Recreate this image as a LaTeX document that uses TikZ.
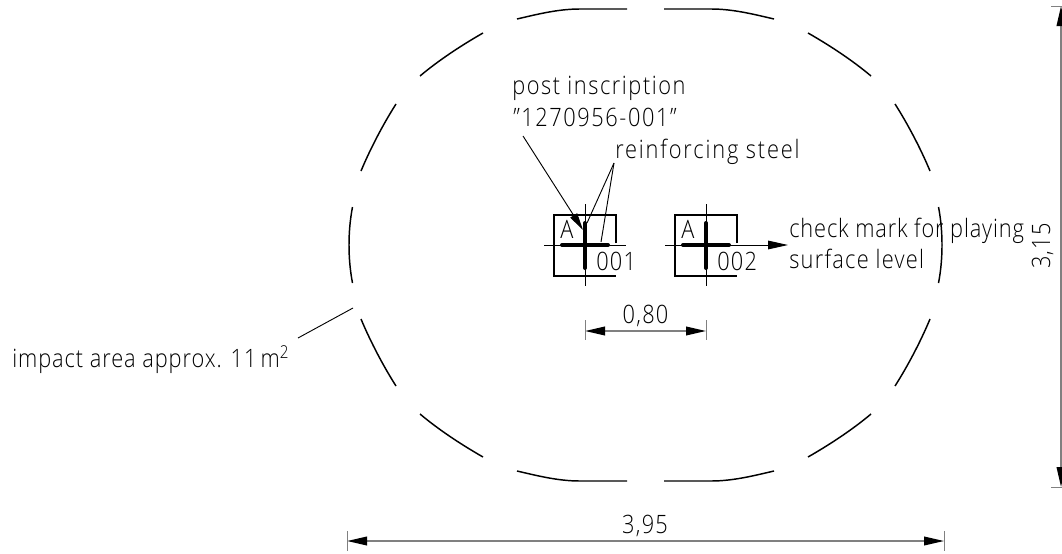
\documentclass[tikz,border=0pt]{standalone}
\usepackage{fontspec}
\setmainfont{Open Sans}[UprightFont=* Light,FakeStretch=0.86,LetterSpace=5]
\usetikzlibrary{arrows.meta}

\begin{document}
\begin{tikzpicture}[x=0.75pt, y=-0.75pt, >={Triangle[length=15pt,width=6.5pt,black]}]
			\tikzstyle{label} = [inner sep=0pt, anchor=base west, font=\fontsize{19}{21}\selectfont]
			\tikzstyle{outline} = [line width=1.1pt, line cap=butt]
			\tikzstyle{thinline} = [line width=0.7pt]
			\tikzstyle{dimline} = [line width=1.2pt, gray]
			\tikzstyle{frame} = [line width=2.2pt]
			\tikzstyle{rebar} = [line width=3pt, line cap=round]
			\useasboundingbox (0,0) rectangle (1062,553);
			% impact area, one quarter mirrored four times
			\foreach \sx in {1,-1} {
				\foreach \sy in {1,-1} {
					\begin{scope}[shift={(645.5,245)}, xscale=\sx, yscale=\sy]
					\draw[outline] (18.5,236) -- (65.5,236) .. controls (88,236) and (109,230.5) .. (128.5,226);
					\draw[outline] (162.5,212) .. controls (183.5,200) and (206.5,185) .. (225.5,169);
					\draw[outline] (249.5,141) .. controls (261,123) and (274.5,98) .. (284.5,74);
					\draw[outline] (293,38) .. controls (295.5,25) and (296.5,12) .. (296.5,0);
					\end{scope}
				}
			}
			% posts
			\foreach \post/\cx/\num in {postA/585/001, postB/706/002} {
				\begin{scope}[shift={(\cx,245)}]
				\coordinate (\post) at (0,0);
				\draw[frame] (31,-2) -- (31,-30) -- (-31,-30) -- (-31,31) -- (31,31);
				\draw[thinline] (-41,0) -- (41,0);
				\draw[thinline] (0,-41) -- (0,41);
				\draw[rebar] (-23,0) -- (23,0);
				\draw[rebar] (0,-22) -- (0,23);
				\node[label] (\post a) at (-25,-7) {A};
				\node[label] (\post n) at (11,25) {\num};
				\end{scope}
			}
			% texts
			\node[label] (inscription) at (512,94) {\addfontfeature{LetterSpace=6.2}post inscription};
			\node[label] (number) at (513,126) {\addfontfeature{LetterSpace=6.2}"1270956-001"};
			\node[label] (steel) at (615,158) {\addfontfeature{LetterSpace=7.3}reinforcing steel};
			\node[label] (check) at (789,237) {\addfontfeature{LetterSpace=3.4}check mark for playing};
			\node[label] (level) at (789,268) {surface level};
			\node[label] (impact) at (12,367) {\addfontfeature{LetterSpace=3.7}impact area approx. 11\,m\textsuperscript{2}};
			\node[label, anchor=base] (width) at (645,533) {3,95};
			\node[label, anchor=base] (spacing) at (645.5,323) {0,80};
			\node[label, anchor=base, rotate=90] (height) at (1050,246) {3,15};
			% leaders
			\coordinate (inscriptionend) at (523,136);
			\coordinate (inscriptiontip) at (583,230);
			\coordinate (steelend) at (614,163);
			\coordinate (steeltipA) at (587,223);
			\coordinate (steeltipB) at (601,242);
			\coordinate (impactend) at (298,338);
			\coordinate (impacttip) at (353,308);
			\coordinate (checktip) at (788,245);
			\draw[thinline, -{Triangle[length=13pt,width=6pt]}] (inscriptionend) -- (inscriptiontip);
			\draw[thinline] (steelend) -- (steeltipA);
			\draw[thinline] (steelend) -- (steeltipB);
			\draw[thinline] (impactend) -- (impacttip);
			\draw[thinline, ->] (postB) ++(41,0) -- (checktip);
			% dimensions
			\coordinate (wl) at (347,541);
			\coordinate (wr) at (944,541);
			\coordinate (sl) at (585,331);
			\coordinate (sr) at (706,331);
			\coordinate (ht) at (1061,6);
			\coordinate (hb) at (1061,487);
			\draw[dimline, <->] (wl) -- (wr);
			\draw[dimline, <->] (sl) -- (sr);
			\draw[dimline, <->] (ht) -- (hb);
			\draw[thinline, gray] (wl) ++(0,-10) -- ++(0,20);
			\draw[thinline, gray] (wr) ++(0,-10) -- ++(0,20);
			\draw[thinline, gray] (sl) ++(0,-11) -- ++(0,20);
			\draw[thinline, gray] (sr) ++(0,-11) -- ++(0,20);
			\draw[thinline, gray] (ht) ++(-10,0) -- ++(12,0);
			\draw[thinline, gray] (hb) ++(-10,0) -- ++(12,0);
			\end{tikzpicture}
\end{document}
